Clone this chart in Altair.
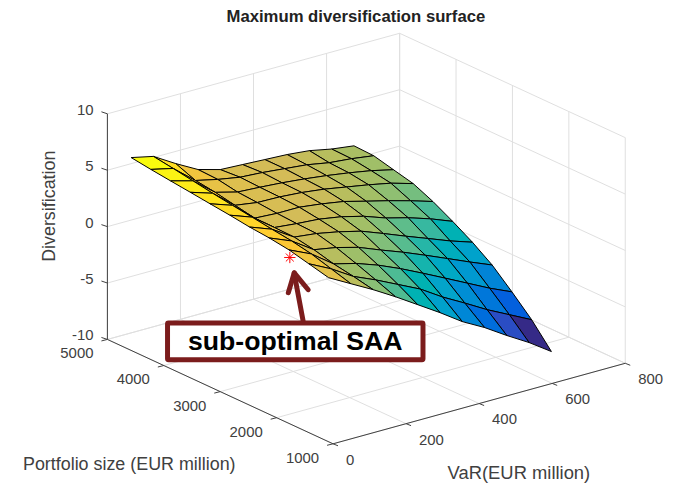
import altair as alt
import pandas as pd

alt.data_transformers.disable_max_rows()

# Model data
var_values = [65, 126, 187, 248, 309, 370, 431, 492, 553, 614, 675]
size_values = [5000, 4650, 4300, 3950, 3600, 3250, 2900, 2550, 2200, 1850, 1500]
# z[j][i]: j along size_values, i along var_values
z_rows = [
    [5.54, 5.10, 3.92, 2.85, 2.30, 2.20, 2.10, 2.00, 1.80, 1.40, 1.14],
    [5.30, 4.84, 3.23, 2.78, 2.43, 2.30, 2.10, 1.90, 1.54, 1.35, 1.07],
    [5.09, 4.55, 2.99, 2.47, 2.35, 2.20, 2.00, 1.75, 1.45, 1.10, 0.64],
    [4.89, 4.26, 2.65, 2.35, 2.30, 2.15, 1.90, 1.55, 1.20, 0.80, 0.22],
    [4.68, 4.00, 2.32, 2.20, 2.20, 1.95, 1.62, 1.10, 0.60, 0.05, -0.56],
    [4.48, 3.76, 2.30, 2.10, 1.95, 1.62, 1.12, 0.42, -0.10, -0.74, -1.51],
    [4.24, 3.50, 2.26, 2.03, 1.64, 1.15, 0.40, -0.38, -1.13, -1.89, -2.55],
    [4.08, 3.27, 1.95, 1.60, 1.07, 0.29, -0.45, -1.26, -2.10, -2.95, -3.76],
    [3.83, 2.93, 1.50, 1.00, 0.30, -0.55, -1.50, -2.48, -3.47, -4.46, -5.33],
    [3.41, 2.42, 1.20, 0.35, -0.60, -1.55, -2.80, -3.88, -5.01, -6.00, -6.99],
    [2.99, 1.91, 0.84, -0.33, -1.58, -2.83, -4.17, -5.24, -6.49, -7.66, -9.00],
]
var_ticks = [0, 200, 400, 600, 800]
size_ticks = [1000, 2000, 3000, 4000, 5000]
z_ticks = [-10, -5, 0, 5, 10]
saa_point = (345, 4000, -3.5)
parula = ["#352A87", "#0F5CDD", "#1481D6", "#06A4CA", "#2EB7A4",
          "#87BF77", "#D1BB59", "#FEC832", "#F9FB0E"]


def project(v, s, z):
    """Orthographic view of the MATLAB-like 3-D box, in page pixels."""
    px = 335 + 294 * (v / 800) - 227 * ((s - 1000) / 4000)
    py = 445 - 81 * (v / 800) - 105 * ((s - 1000) / 4000) - 227 * ((z + 10) / 20)
    return px, py


vmin, vmax, smin, smax, zmin, zmax = 0, 800, 1000, 5000, -10, 10

# Surface cells
cells = []
n_i, n_j = len(var_values), len(size_values)
order = sorted(((i, j) for i in range(n_i - 1) for j in range(n_j - 1)),
               key=lambda c: -(c[0] - c[1]))
for cid, (i, j) in enumerate(order):
    corners = [(i, j), (i + 1, j), (i + 1, j + 1), (i, j + 1), (i, j)]
    mean_z = sum(z_rows[b][a] for a, b in corners[:4]) / 4
    for k, (a, b) in enumerate(corners):
        px, py = project(var_values[a], size_values[b], z_rows[b][a])
        cells.append({"x": px, "y": py, "cell": cid, "k": k, "c": mean_z})
cells_df = pd.DataFrame(cells)

# Grid lines on floor and two back walls
grid = []
def seg(rows, a, b):
    p, q = project(*a), project(*b)
    rows.append({"x": p[0], "y": p[1], "x2": q[0], "y2": q[1]})

for v in var_ticks:
    seg(grid, (v, smin, zmin), (v, smax, zmin))
    seg(grid, (v, smax, zmin), (v, smax, zmax))
for s in size_ticks:
    seg(grid, (vmin, s, zmin), (vmax, s, zmin))
    seg(grid, (vmax, s, zmin), (vmax, s, zmax))
for z in z_ticks:
    seg(grid, (vmin, smax, z), (vmax, smax, z))
    seg(grid, (vmax, smax, z), (vmax, smin, z))
grid_df = pd.DataFrame(grid)

axes = []
seg(axes, (vmin, smax, zmin), (vmin, smax, zmax))
seg(axes, (vmin, smax, zmin), (vmin, smin, zmin))
seg(axes, (vmin, smin, zmin), (vmax, smin, zmin))
ticks, right_labels, left_labels = [], [], []
for z in z_ticks:
    px, py = project(vmin, smax, z)
    ticks.append({"x": px - 6, "y": py - 2, "x2": px, "y2": py})
    right_labels.append({"x": px - 14, "y": py - 4, "t": str(z)})
for s in size_ticks:
    px, py = project(vmin, s, zmin)
    ticks.append({"x": px - 6, "y": py + 1.5, "x2": px, "y2": py})
    right_labels.append({"x": px - 14, "y": py + 14, "t": str(s)})
for v in var_ticks:
    px, py = project(v, smin, zmin)
    ticks.append({"x": px + 5, "y": py + 2, "x2": px, "y2": py})
    left_labels.append({"x": px + 13, "y": py + 16, "t": str(v)})
axes_df = pd.DataFrame(axes + ticks)

sx = alt.Scale(domain=[8, 673], range=[0, 665], zero=False, nice=False)
sy = alt.Scale(domain=[478, 8], range=[470, 0], zero=False, nice=False)
X = alt.X("x:Q", scale=sx, axis=None)
Y = alt.Y("y:Q", scale=sy, axis=None)
X2 = alt.X2("x2:Q")
Y2 = alt.Y2("y2:Q")

grid_layer = alt.Chart(grid_df).mark_rule(color="#dfdfdf", strokeWidth=1).encode(x=X, y=Y, x2=X2, y2=Y2)
axes_layer = alt.Chart(axes_df).mark_rule(color="#404040", strokeWidth=1).encode(x=X, y=Y, x2=X2, y2=Y2)

zlo = cells_df["c"].min()
zhi = cells_df["c"].max()
dom = [zlo + (zhi - zlo) * n / 8 for n in range(9)]
surface = alt.Chart(cells_df).mark_line(filled=True, stroke="black", strokeWidth=1, strokeJoin="round").encode(
    x=X, y=Y, order="k:Q", detail="cell:N",
    fill=alt.Fill("c:Q", scale=alt.Scale(domain=dom, range=parula), legend=None),
)

labels_r = alt.Chart(pd.DataFrame(right_labels)).mark_text(
    font="Liberation Sans", fontSize=15, color="#404040", baseline="middle", align="right"
).encode(x=X, y=Y, text="t:N")
labels_l = alt.Chart(pd.DataFrame(left_labels)).mark_text(
    font="Liberation Sans", fontSize=15, color="#404040", baseline="middle", align="left"
).encode(x=X, y=Y, text="t:N")

px, py = project(*saa_point)
star = alt.Chart(pd.DataFrame([{"x": px, "y": py}])).mark_point(
    shape="M-1,0L1,0M0,-1L0,1M-.7,-.7L.7,.7M-.7,.7L.7,-.7", size=130, color="red", strokeWidth=1, filled=False, opacity=1
).encode(x=X, y=Y)


def text(t, x, y, size, weight="normal", color="#404040", angle=0, align="center"):
    return alt.Chart(pd.DataFrame([{"t": t}])).mark_text(
        font="Liberation Sans", fontSize=size, fontWeight=weight, color=color, angle=angle,
        align=align, baseline="middle"
    ).encode(text="t:N", x=alt.value(x - 8), y=alt.value(y - 8))


def rule(x1, y1, x2, y2, w=5):
    return alt.Chart(pd.DataFrame([{"a": 0}])).mark_rule(color="#7b1c1c", strokeWidth=w, strokeCap="round").encode(
        x=alt.value(x1 - 8), y=alt.value(y1 - 8), x2=alt.value(x2 - 8), y2=alt.value(y2 - 8))


box = alt.Chart(pd.DataFrame([{"a": 0}])).mark_rect(
    fill="white", stroke="#7b1c1c", strokeWidth=5, cornerRadius=1
).encode(x=alt.value(168.5 - 8), x2=alt.value(425.5 - 8), y=alt.value(323.5 - 8), y2=alt.value(360.5 - 8))

chart = alt.layer(
    grid_layer, axes_layer, surface, labels_r, labels_l, star,
    rule(305, 322, 296, 274), rule(296, 273, 290, 293), rule(296, 273, 310, 290),
    box,
    text("sub-optimal SAA", 297, 343, 26.8, "bold", "black"),
    text("Maximum diversification surface", 358, 16, 16.8, "bold", "#222222"),
    text("Diversification", 50, 206, 18, angle=270),
    text("Portfolio size (EUR million)", 130, 466, 18),
    text("VaR(EUR million)", 522, 474, 18.5),
).properties(width=665, height=470, padding=0, background="white").configure_view(stroke=None)

chart.save("out.html", embed_options={"renderer": "svg", "actions": False})
